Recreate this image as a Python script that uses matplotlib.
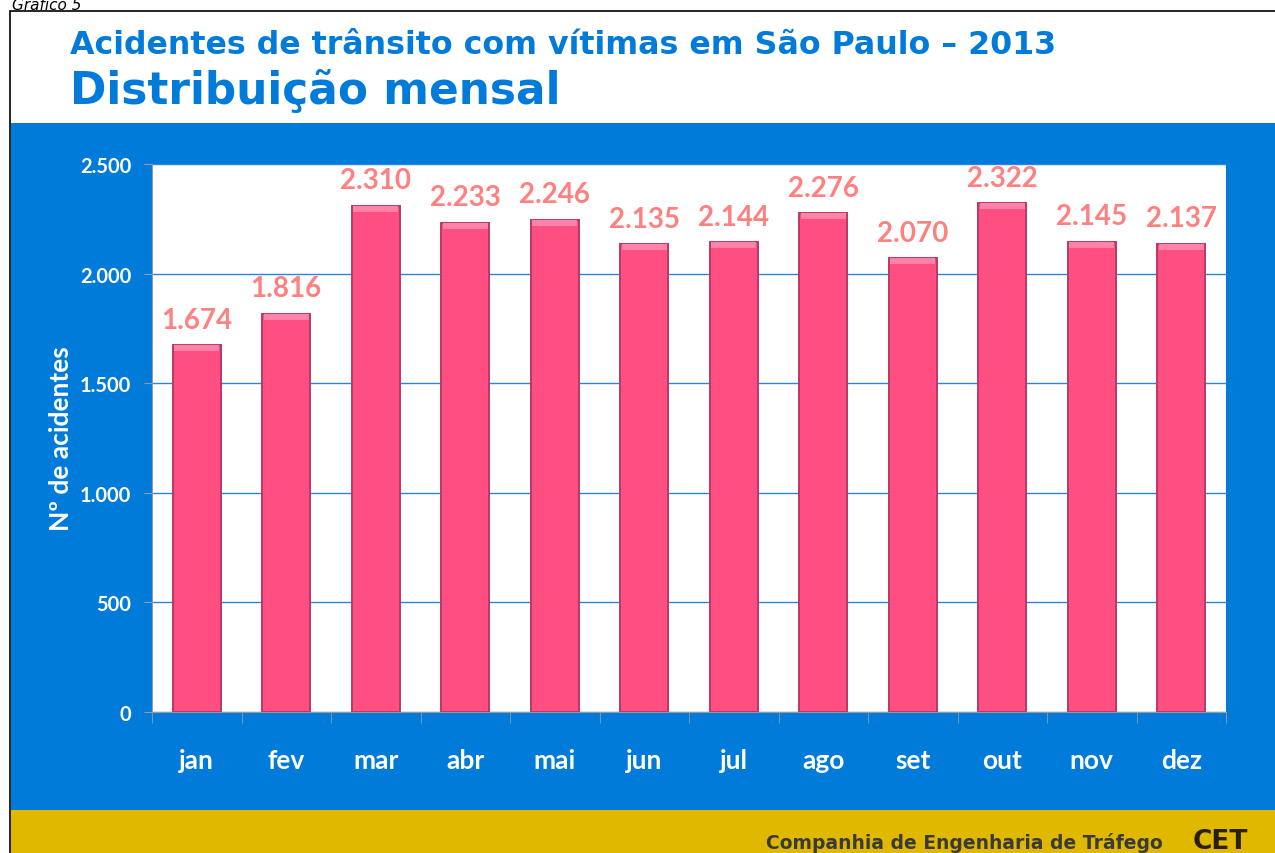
import matplotlib
matplotlib.use("Agg")
import matplotlib.pyplot as plt
from matplotlib.patches import Rectangle
import numpy as np

# dados - acidentes com vitimas por mes, SP 2013
meses = ["jan", "fev", "mar", "abr", "mai", "jun", "jul", "ago", "set", "out", "nov", "dez"]
acidentes = [1674, 1816, 2310, 2233, 2246, 2135, 2144, 2276, 2070, 2322, 2145, 2137]
yticks = [0, 500, 1000, 1500, 2000, 2500]

azul = "#007BDA"
amarelo = "#E0B800"
rosa = "#FF4F82"
salmao = "#FF8080"

W, H = 1275, 854
fig = plt.figure(figsize=(W / 100, H / 100), dpi=100)
fig.patch.set_facecolor("white")

def px(x0, y0, x1, y1):
    # retangulo em pixels (origem em cima) -> coords da figura
    return (x0 / W, 1 - y1 / H), (x1 - x0) / W, (y1 - y0) / H

# moldura e faixas
xy, w, h = px(10, 12, 1280, 860)
fig.patches.append(Rectangle(xy, w, h, transform=fig.transFigure, facecolor="white",
                             edgecolor="black", lw=1.2, zorder=0))
xy, w, h = px(11, 124, 1280, 811)
fig.patches.append(Rectangle(xy, w, h, transform=fig.transFigure, facecolor=azul, lw=0, zorder=1))
xy, w, h = px(11, 811, 1280, 860)
fig.patches.append(Rectangle(xy, w, h, transform=fig.transFigure, facecolor=amarelo, lw=0, zorder=1))

fig.text(12 / W, 1 - 10 / H, "Gráfico 5", fontsize=11, style="italic", color="black",
         ha="left", va="baseline", family="DejaVu Sans")
fig.text(70 / W, 1 - 54 / H, "Acidentes de trânsito com vítimas em São Paulo – 2013",
         fontsize=22.8, fontweight="bold", color=azul, ha="left", va="baseline", family="DejaVu Sans")
fig.text(70 / W, 1 - 104 / H, "Distribuição mensal",
         fontsize=31.6, fontweight="bold", color=azul, ha="left", va="baseline", family="DejaVu Sans")
fig.text(1163 / W, 1 - 849 / H, "Companhia de Engenharia de Tráfego", fontsize=13.5,
         fontweight="bold", color="#3a3a3a", ha="right", va="baseline",
         family=["Liberation Sans Narrow", "DejaVu Sans"])
fig.text(1193 / W, 1 - 849 / H, "CET", fontsize=19, fontweight="bold", color="#2a2000",
         ha="left", va="baseline", family=["Liberation Sans Narrow", "DejaVu Sans"])

ax = fig.add_axes([152 / W, 1 - 713 / H, (1226 - 152) / W, (713 - 165) / H])
ax.set_zorder(5)
ax.set_facecolor("white")
x = np.arange(len(meses))
bars = ax.bar(x, acidentes, width=0.54, color=rosa, edgecolor="#B83A64", lw=1.4, zorder=3)
# tampa mais clara no topo (efeito 3D)
tampa = 28
ax.bar(x, [tampa] * len(x), bottom=[v - tampa for v in acidentes], width=0.5,
       color="#FF82A8", lw=0, zorder=3.5)

for xi, v in zip(x, acidentes):
    ax.annotate(f"{v:,}".replace(",", "."), (xi, v), xytext=(0, 9), textcoords="offset points",
                ha="center", va="bottom", fontsize=20, fontweight="bold", color=salmao,
                family=["Lato", "DejaVu Sans"], zorder=4)

ax.set_xlim(-0.5, len(meses) - 0.5)
ax.set_ylim(0, 2500)
ax.set_yticks(yticks)
ax.set_yticklabels([f"{t:,}".replace(",", ".") for t in yticks])
ax.yaxis.grid(True, color="#2A86D8", lw=1.0, zorder=0)
ax.set_axisbelow(True)

ax.set_xticks(x)
ax.set_xticklabels(meses)
ax.set_xticks(np.arange(-0.5, len(meses), 1.0), minor=True)
ax.tick_params(axis="x", which="major", length=0, pad=26, labelsize=19, labelcolor="white")
ax.tick_params(axis="x", which="minor", length=8, color="#9a9a9a", direction="out")
ax.tick_params(axis="y", length=6, color="#9a9a9a", pad=9, labelsize=14.5, labelcolor="white")
for lab in ax.get_xticklabels():
    lab.set_fontweight("bold")
    lab.set_family(["Lato", "DejaVu Sans"])
for lab in ax.get_yticklabels():
    lab.set_fontweight("bold")
    lab.set_family(["Lato", "DejaVu Sans"])

for s in ["top", "right"]:
    ax.spines[s].set_visible(False)
ax.spines["left"].set_color("#9a9a9a")
ax.spines["bottom"].set_color("#9a9a9a")

ax.set_ylabel("Nº de acidentes", fontsize=19, fontweight="bold", color="white",
              family=["Lato", "DejaVu Sans"], labelpad=5)

fig.savefig("out.png", dpi=100)
